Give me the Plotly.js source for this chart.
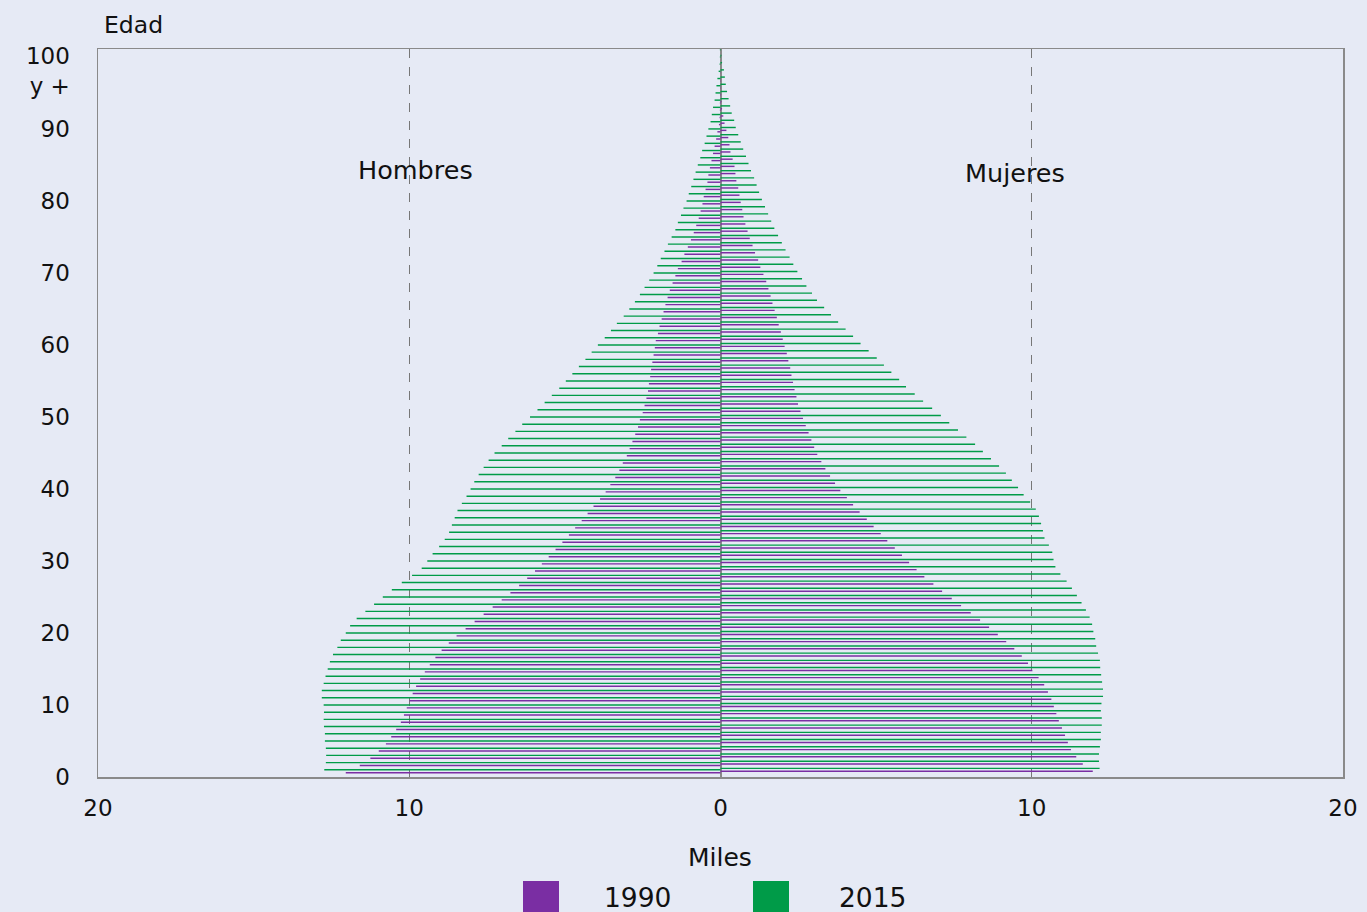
<!DOCTYPE html>
<html>
<head>
<meta charset="utf-8">
<script src="https://cdn.plot.ly/plotly-3.0.1.min.js"></script>
<style>
  html, body { margin: 0; padding: 0; background: #E6EAF5; }
  #chart { width: 1367px; height: 912px; }
</style>
</head>
<body>
<div id="chart"></div>
<script>
// Ages 0..100 (100 = "100 y +")
const ages = Array.from({length: 101}, (_, i) => i);

// Population in thousands (Miles)
const hombres1990 = [12.04,11.59,11.25,10.98,10.75,10.58,10.42,10.27,10.17,10.08,
  9.99,9.89,9.78,9.65,9.50,9.34,9.16,8.96,8.73,8.48,
  8.19,7.90,7.61,7.32,7.03,6.75,6.47,6.21,5.96,5.74,
  5.52,5.30,5.08,4.87,4.67,4.46,4.27,4.08,3.87,3.69,
  3.54,3.38,3.25,3.14,3.01,2.92,2.83,2.74,2.65,2.59,
  2.50,2.44,2.38,2.33,2.30,2.26,2.23,2.19,2.15,2.11,
  2.08,2.01,1.96,1.89,1.83,1.77,1.70,1.63,1.54,1.45,
  1.37,1.25,1.16,1.05,0.95,0.86,0.78,0.70,0.64,0.58,
  0.54,0.48,0.42,0.39,0.34,0.29,0.24,0.19,0.14,0.10,
  0.05,0.03,0.02,0.02,0.01,0.01,0.01,0,0,0,0];

const hombres2015 = [12.73,12.68,12.67,12.68,12.71,12.71,12.74,12.75,12.74,12.75,
  12.81,12.81,12.75,12.69,12.62,12.55,12.45,12.31,12.20,12.04,
  11.90,11.69,11.41,11.13,10.85,10.56,10.24,9.91,9.60,9.42,
  9.25,9.04,8.86,8.72,8.63,8.54,8.45,8.31,8.16,8.03,
  7.91,7.77,7.61,7.45,7.26,7.03,6.82,6.59,6.37,6.12,
  5.88,5.65,5.42,5.18,4.97,4.76,4.55,4.34,4.14,3.94,
  3.72,3.52,3.33,3.11,2.93,2.75,2.59,2.44,2.29,2.15,
  2.03,1.92,1.80,1.69,1.57,1.45,1.37,1.27,1.19,1.09,
  1.02,0.94,0.87,0.80,0.73,0.65,0.59,0.51,0.45,0.39,
  0.32,0.28,0.24,0.19,0.16,0.13,0.10,0.06,0.03,0.02,0.02];

const mujeres1990 = [11.96,11.64,11.43,11.26,11.16,11.07,10.97,10.87,10.79,10.71,
  10.63,10.52,10.40,10.22,10.02,9.88,9.68,9.44,9.18,8.91,
  8.63,8.34,8.04,7.73,7.43,7.12,6.84,6.55,6.30,6.06,
  5.83,5.60,5.36,5.15,4.92,4.70,4.47,4.26,4.06,3.85,
  3.68,3.52,3.37,3.24,3.11,3.01,2.92,2.83,2.74,2.65,
  2.57,2.49,2.44,2.38,2.33,2.28,2.24,2.18,2.13,2.06,
  2.00,1.94,1.87,1.81,1.74,1.67,1.61,1.54,1.47,1.38,
  1.28,1.21,1.11,1.03,0.94,0.87,0.80,0.74,0.70,0.65,
  0.61,0.57,0.51,0.48,0.45,0.39,0.32,0.29,0.25,0.19,
  0.13,0.09,0.05,0.03,0.02,0.01,0.01,0.01,0,0,0];

const mujeres2015 = [12.18,12.16,12.16,12.19,12.22,12.22,12.25,12.25,12.22,12.24,
  12.29,12.29,12.26,12.23,12.20,12.19,12.13,12.07,12.04,11.98,
  11.94,11.86,11.74,11.60,11.45,11.29,11.12,10.92,10.76,10.70,
  10.66,10.55,10.41,10.36,10.30,10.23,10.13,9.95,9.74,9.56,
  9.36,9.17,8.95,8.69,8.43,8.18,7.90,7.63,7.35,7.08,
  6.80,6.51,6.24,5.96,5.74,5.49,5.25,5.02,4.76,4.50,
  4.26,4.02,3.78,3.55,3.33,3.10,2.94,2.76,2.62,2.47,
  2.34,2.22,2.09,1.97,1.85,1.73,1.63,1.53,1.43,1.33,
  1.24,1.16,1.08,0.98,0.90,0.82,0.73,0.65,0.57,0.49,
  0.44,0.36,0.31,0.26,0.21,0.17,0.14,0.11,0.05,0.03,0.03];

const xTickVals = [-20, -10, 0, 10, 20];
const xTickText = ['20', '10', '0', '10', '20'];
const yTickVals = [0, 10, 20, 30, 40, 50, 60, 70, 80, 90, 98.1];
const yTickText = ['0', '10', '20', '30', '40', '50', '60', '70', '80', '90', '100<br>y +'];
const seriesNames = ['1990', '2015'];

const PURPLE = '#7A2EA3';
const GREEN = '#009B48';
const FONT = 'DejaVu Sans, sans-serif';

const yPos = ages.map(a => a + 0.9);

function barTrace(vals, sign, color, name) {
  return {
    type: 'bar', orientation: 'h',
    x: vals.map(v => sign * v), y: yPos,
    marker: { color: color, line: { width: 0 } },
    name: name, showlegend: false, hoverinfo: 'skip'
  };
}

const data = [
  barTrace(hombres1990, -1, PURPLE, seriesNames[0]),
  barTrace(mujeres1990, 1, PURPLE, seriesNames[0]),
  barTrace(hombres2015, -1, GREEN, seriesNames[1]),
  barTrace(mujeres2015, 1, GREEN, seriesNames[1])
];

const px2x = px => (px - 98) / 1245;
const px2y = py => (777 - py) / 728;

const layout = {
  width: 1367, height: 912,
  margin: { l: 98, r: 24, t: 49, b: 135 },
  paper_bgcolor: '#E6EAF5', plot_bgcolor: '#E6EAF5',
  font: { family: FONT, size: 23, color: '#111' },
  barmode: 'group', bargap: 0.2, bargroupgap: 0,
  showlegend: false,
  xaxis: {
    range: [-20, 20], tickvals: xTickVals, ticktext: xTickText,
    showgrid: true, gridcolor: '#777', griddash: 'dash', gridwidth: 1,
    zeroline: true, zerolinecolor: '#8a8a8a', zerolinewidth: 2,
    showline: true, mirror: true, linecolor: '#8a8a8a', linewidth: 1.5,
    ticks: '', ticklabelstandoff: 10,
    fixedrange: true
  },
  yaxis: {
    range: [0, 101.1], tickvals: yTickVals, ticktext: yTickText,
    showgrid: false, zeroline: false,
    showline: true, mirror: true, linecolor: '#8a8a8a', linewidth: 1.5,
    ticks: '', ticklabelstandoff: 22,
    fixedrange: true
  },
  annotations: [
    { xref: 'paper', yref: 'paper', x: px2x(133), y: px2y(25), text: 'Edad', showarrow: false,
      xanchor: 'center', yanchor: 'middle', font: { family: FONT, size: 23.5, color: '#111' } },
    { xref: 'paper', yref: 'paper', x: px2x(720), y: px2y(857), text: 'Miles', showarrow: false,
      xanchor: 'center', yanchor: 'middle', font: { family: FONT, size: 25, color: '#111' } },
    { xref: 'x', yref: 'y', x: -9.8, y: 84.3, text: 'Hombres', showarrow: false,
      xanchor: 'center', yanchor: 'middle', font: { family: FONT, size: 25.5, color: '#111' } },
    { xref: 'x', yref: 'y', x: 9.45, y: 83.9, text: 'Mujeres', showarrow: false,
      xanchor: 'center', yanchor: 'middle', font: { family: FONT, size: 25.5, color: '#111' } },
    { xref: 'paper', yref: 'paper', x: px2x(637), y: px2y(897), text: seriesNames[0], showarrow: false,
      xanchor: 'center', yanchor: 'middle', font: { family: FONT, size: 26.5, color: '#111' } },
    { xref: 'paper', yref: 'paper', x: px2x(872), y: px2y(897), text: seriesNames[1], showarrow: false,
      xanchor: 'center', yanchor: 'middle', font: { family: FONT, size: 26.5, color: '#111' } }
  ],
  shapes: [
    { type: 'rect', xref: 'paper', yref: 'paper', x0: px2x(523), x1: px2x(559), y0: px2y(920), y1: px2y(881),
      fillcolor: PURPLE, line: { width: 0 } },
    { type: 'rect', xref: 'paper', yref: 'paper', x0: px2x(753), x1: px2x(789), y0: px2y(920), y1: px2y(881),
      fillcolor: GREEN, line: { width: 0 } }
  ]
};

Plotly.newPlot('chart', data, layout, { displayModeBar: false, staticPlot: true });
</script>
</body>
</html>
